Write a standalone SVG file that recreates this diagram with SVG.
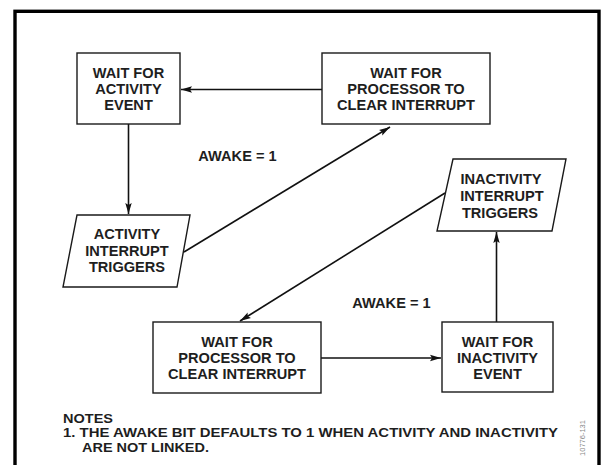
<svg xmlns="http://www.w3.org/2000/svg" width="610" height="465" viewBox="0 0 610 465">
<style>
.box{fill:#fff;stroke:#1a1a1a;stroke-width:1.4}
.t{font-family:"Liberation Sans",Arial,sans-serif;font-weight:bold;font-size:14.6px;fill:#1e1e1e;text-anchor:middle}
.n{font-family:"Liberation Sans",Arial,sans-serif;font-weight:bold;font-size:13px;fill:#1e1e1e}
.c{stroke:#111;stroke-width:1.6;fill:none;marker-end:url(#ah)}
</style>
<defs>
<marker id="ah" markerWidth="12" markerHeight="8" refX="11" refY="4" orient="auto" markerUnits="userSpaceOnUse">
<path d="M0,0.8 L11,4 L0,7.2 L2,4 Z" fill="#111"/>
</marker>
</defs>
<rect x="0" y="0" width="610" height="465" fill="#fff"/>
<rect x="15" y="11.3" width="584" height="470" fill="none" stroke="#000" stroke-width="3.4"/>
<g id="connectors">
<line class="c" x1="322" y1="89.5" x2="181" y2="89.5"/>
<line class="c" x1="128.5" y1="124" x2="128.5" y2="214"/>
<line class="c" x1="184" y1="252" x2="390" y2="127"/>
<line class="c" x1="445" y1="193" x2="240" y2="321"/>
<line class="c" x1="321" y1="358" x2="441" y2="358"/>
<line class="c" x1="496.5" y1="322" x2="496.5" y2="232"/>
</g>
<g id="wait-activity">
<rect class="box" x="77" y="53" width="103" height="71"/>
<text class="t" x="128.5" y="78">WAIT FOR</text>
<text class="t" x="128.5" y="94">ACTIVITY</text>
<text class="t" x="128.5" y="110">EVENT</text>
</g>
<g id="wait-processor-top">
<rect class="box" x="322" y="53" width="168" height="71"/>
<text class="t" x="406" y="78">WAIT FOR</text>
<text class="t" x="406" y="94">PROCESSOR TO</text>
<text class="t" x="406" y="110">CLEAR INTERRUPT</text>
</g>
<g id="activity-interrupt">
<polygon class="box" points="77,215 190,215 177,287 63,287"/>
<text class="t" x="127" y="239">ACTIVITY</text>
<text class="t" x="127" y="255.5">INTERRUPT</text>
<text class="t" x="127" y="272">TRIGGERS</text>
</g>
<g id="inactivity-interrupt">
<polygon class="box" points="453,159 566,159 552,231 437,231"/>
<text class="t" x="501" y="184">INACTIVITY</text>
<text class="t" x="502" y="201">INTERRUPT</text>
<text class="t" x="500" y="218">TRIGGERS</text>
</g>
<g id="wait-processor-bottom">
<rect class="box" x="153" y="322" width="168" height="71"/>
<text class="t" x="237" y="347">WAIT FOR</text>
<text class="t" x="237" y="363">PROCESSOR TO</text>
<text class="t" x="237" y="379">CLEAR INTERRUPT</text>
</g>
<g id="wait-inactivity">
<rect class="box" x="442" y="322" width="111" height="70"/>
<text class="t" x="497.5" y="347">WAIT FOR</text>
<text class="t" x="497.5" y="363">INACTIVITY</text>
<text class="t" x="497.5" y="379">EVENT</text>
</g>
<g id="labels">
<text class="t" x="237.5" y="161">AWAKE = 1</text>
<text class="t" x="391.5" y="308">AWAKE = 1</text>
</g>
<g id="notes">
<text class="n" x="63" y="422.5" textLength="50" lengthAdjust="spacingAndGlyphs">NOTES</text>
<text class="n" x="63" y="437" textLength="495" lengthAdjust="spacingAndGlyphs">1. THE AWAKE BIT DEFAULTS TO 1 WHEN ACTIVITY AND INACTIVITY</text>
<text class="n" x="82" y="451.5" textLength="127" lengthAdjust="spacingAndGlyphs">ARE NOT LINKED.</text>
<text x="585" y="438" transform="rotate(-90 585 438)" font-family="'Liberation Sans',Arial,sans-serif" font-size="7.5" fill="#888" text-anchor="middle">10776-131</text>
</g>
</svg>
